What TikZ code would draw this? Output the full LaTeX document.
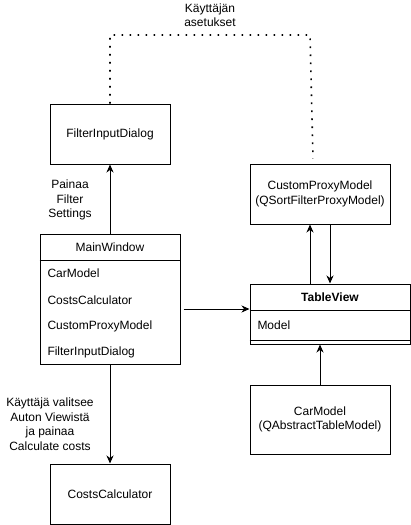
\documentclass[tikz,border=0pt]{standalone}
\usepackage{fontspec}
\setmainfont{Liberation Sans}
\usetikzlibrary{calc,arrows.meta}

\begin{document}
\begin{tikzpicture}[x=1pt, y=-1pt, line width=1pt, font=\fontsize{12}{14.5}\selectfont,
		box/.style={draw, inner sep=0pt, align=center},
		arr/.style={-{Stealth[length=8pt,width=7pt,inset=2.5pt]}},
		userdots/.style={line width=1.6pt, dash pattern=on 1.6pt off 6.4pt},
		txt/.style={align=center, inner sep=0pt}]
		%%%%% START %%%%%
		\useasboundingbox (0,0) rectangle (411,525);
		
		\node[box, minimum width=120pt, minimum height=60pt] (dialog) at (110,134) {FilterInputDialog};
		\node[box, minimum width=140pt, minimum height=60pt] (proxy) at (320,194) {CustomProxyModel\\(QSortFilterProxyModel)};
		\node[box, minimum width=140pt, minimum height=69pt] (carmodel) at (320,419.5) {CarModel\\(QAbstractTableModel)};
		\node[box, minimum width=120pt, minimum height=60pt] (costs) at (110,494) {CostsCalculator};
		
		% MainWindow luokka
		\node[box, minimum width=140pt, minimum height=130pt] (main) at (110,299) {};
		\draw (main.west |- 0,260) -- (main.east |- 0,260);
		\node[txt] (maintitle) at (110,247) {MainWindow};
		\node[txt, anchor=west] (mcar) at (47,273) {CarModel};
		\node[txt, anchor=west] (mcosts) at (47,300) {CostsCalculator};
		\node[txt, anchor=west] (mproxy) at (47,326) {CustomProxyModel};
		\node[txt, anchor=west] (mdialog) at (47,352) {FilterInputDialog};
		
		% TableView
		\node[box, minimum width=160pt, minimum height=60pt] (table) at (330,314) {};
		\draw (table.west |- 0,310) -- (table.east |- 0,310);
		\draw (table.west |- 0,340) -- (table.east |- 0,340);
		\node[txt] (tabletitle) at (330,297) {\bfseries TableView};
		\node[txt, anchor=west] (tmodel) at (257,325) {Model};
		
		% nuolet
		\draw[arr] (main.north) -- (dialog.south);
		\draw[arr] (main.south) -- (costs.north);
		\draw[arr] ($(main.east |- table.west)+(3,-5)$) -- ($(table.west)+(0,-5)$);
		\draw[arr] ([xshift=-20pt]table.north) -- ([xshift=-10pt]proxy.south);
		\draw[arr] ([xshift=10pt]proxy.south) -- ([xshift=0pt]table.north);
		\draw[arr] (carmodel.north) -- ([xshift=-10pt]table.south);
		
		\coordinate (corner) at (310,35);
		\draw[userdots] (dialog.north) |- (corner) -- ($(proxy.north)+(-7,-5)$);
		
		\node[txt] (settingslabel) at (210,15) {Käyttäjän\\asetukset};
		\node[txt] (filterlabel) at (70,200) {Painaa\\Filter\\Settings};
		\node[txt] (costslabel) at (50,424) {Käyttäjä valitsee\\Auton Viewistä\\ja painaa\\Calculate costs};
		
		%%%%% END %%%%%
	\end{tikzpicture}
\end{document}
